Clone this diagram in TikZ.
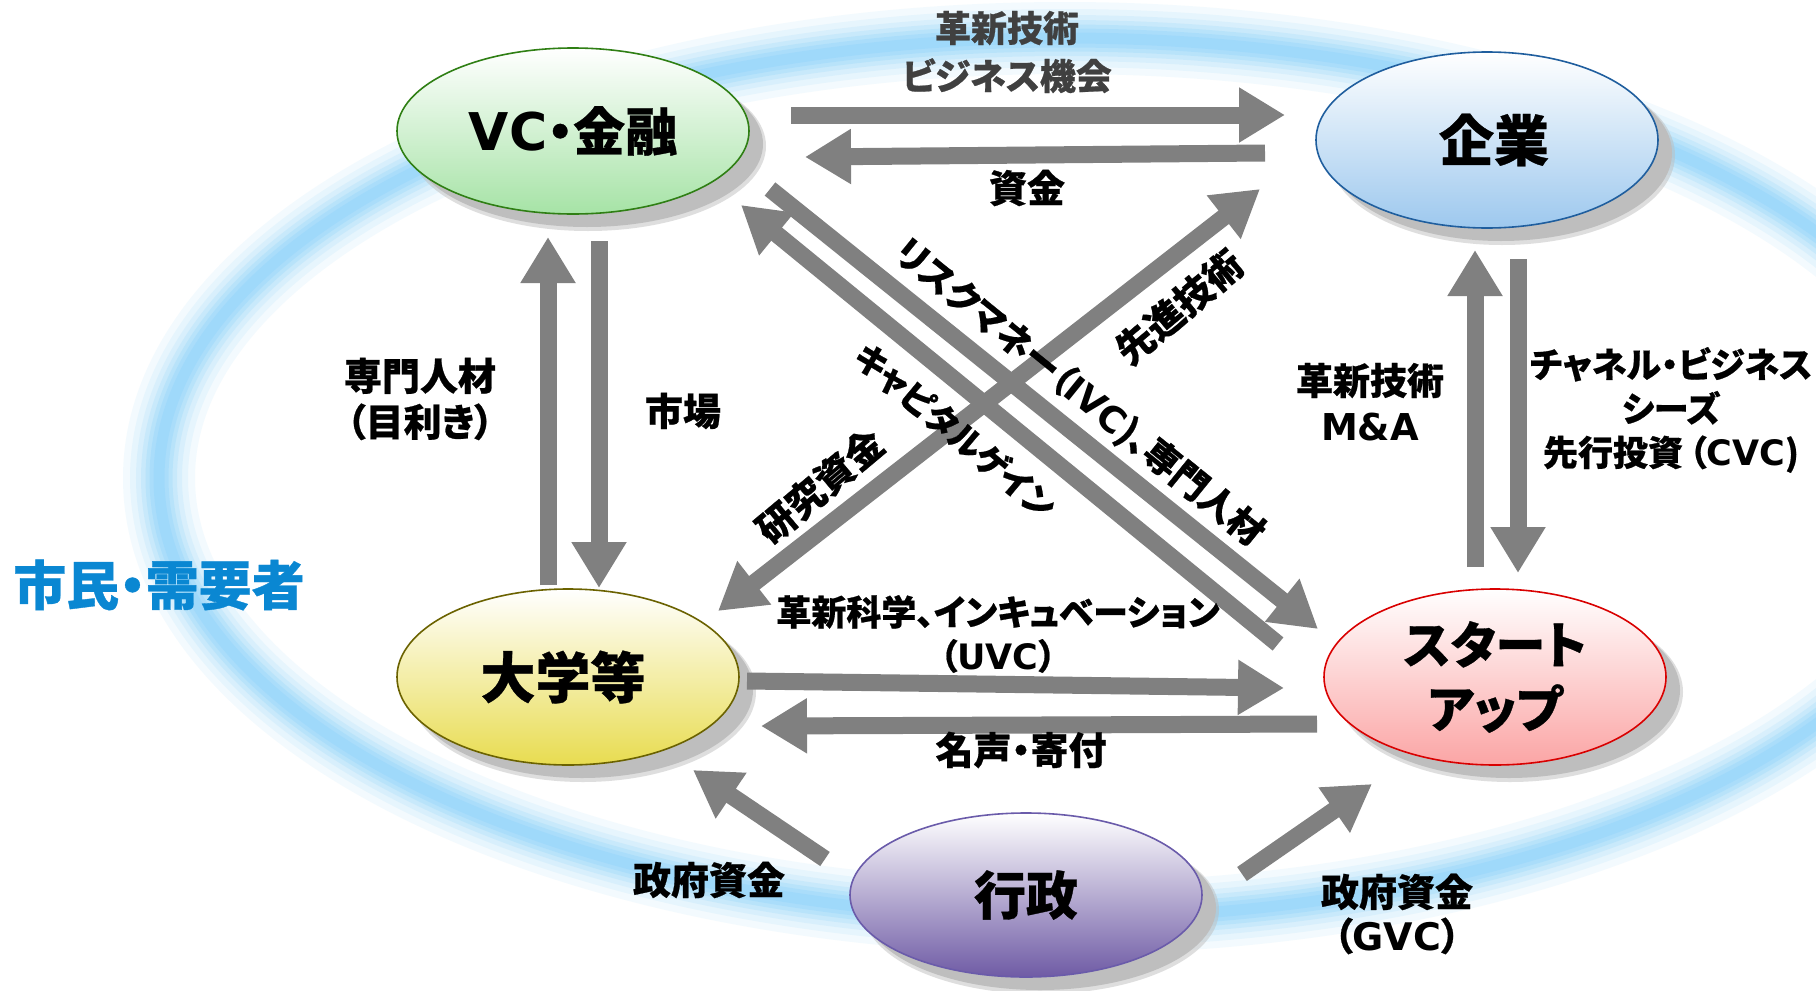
\documentclass[tikz,border=0pt]{standalone}
\usepackage{fontspec}
\setmainfont{Noto Sans CJK JP}[RawFeature=+palt, BoldFeatures={FakeBold=0.6}]
\newfontfamily\latf{DejaVu Sans}
\usetikzlibrary{shapes.geometric,arrows.meta}
\definecolor{agray}{RGB}{128,128,128}
\definecolor{ringc}{RGB}{140,210,250}
\definecolor{shad}{RGB}{190,190,190}
\definecolor{vcB}{RGB}{166,227,166}\definecolor{vcD}{RGB}{47,127,20}
\definecolor{kiB}{RGB}{157,200,238}\definecolor{kiD}{RGB}{31,94,158}
\definecolor{daB}{RGB}{232,220,80}\definecolor{daD}{RGB}{107,98,0}
\definecolor{stB}{RGB}{251,165,165}\definecolor{stD}{RGB}{217,0,0}
\definecolor{gyB}{RGB}{111,91,165}\definecolor{gyD}{RGB}{106,91,170}
\definecolor{citz}{RGB}{10,135,210}
\newcommand\LT[1]{{\latf #1}}
\newcommand\fsl[2]{\fontsize{#1}{#2}\selectfont}
\begin{document}
\begin{tikzpicture}[x=1pt,y=-1pt,
  bub/.style={ellipse, inner sep=0pt, line width=1.6pt, font=\bfseries\fsl{52}{64}, align=center},
  lbl/.style={font=\bfseries\fsl{38}{46}, align=center, inner sep=0pt},
  blk/.style={draw=agray, line width=17pt, -{Triangle[width=52pt,length=46pt]}},
  dblk/.style={draw=agray, line width=17pt, {Triangle[width=52pt,length=46pt]}-{Triangle[width=52pt,length=46pt]}},
]
\useasboundingbox (0,0) rectangle (1816,991);
\clip (0,0) rectangle (1816,991);
\fill[white] (0,0) rectangle (1816,991);
% outer ring (citizens)
\foreach \w/\o in {72/0.10, 58/0.12, 46/0.15, 36/0.2, 27/0.25, 19/0.3, 11/0.35}
  \draw[ringc, line width=\w pt, opacity=\o] (1065,478) ellipse [x radius=906, y radius=440];

% shadows
\foreach \cx/\cy/\rx/\ry in {573/131/176/83, 1487/140/171/88, 568/677/171/88, 1495/677/171/88, 1026/895/176/82}{
  \fill[shad, opacity=0.5] (\cx+15,\cy+15) ellipse [x radius=\rx+2, y radius=\ry+2];
  \fill[shad] (\cx+14,\cy+13) ellipse [x radius=\rx, y radius=\ry];
}
% nodes
\node[bub, minimum width=352, minimum height=166, top color=white, bottom color=vcB, draw=vcD] (vc) at (573,131) {\raisebox{-6pt}{\LT{VC}・金融}};
\node[bub, minimum width=342, minimum height=176, top color=white, bottom color=kiB, draw=kiD, font=\bfseries\fsl{55}{64}] (ki) at (1487,140) {\hspace*{14pt}企業};
\node[bub, minimum width=342, minimum height=176, top color=white, bottom color=daB, draw=daD, font=\bfseries\fsl{55}{64}] (dai) at (568,677) {\hspace*{-10pt}大学等};
\node[bub, minimum width=342, minimum height=176, top color=white, bottom color=stB, draw=stD, font=\bfseries\fsl{50}{64}] (st) at (1495,677) {スタート\\アップ};
\node[bub, minimum width=352, minimum height=164, top color=white, bottom color=gyB, draw=gyD] (gy) at (1026,895) {行政};

% arrow end coordinates
\coordinate (a1s) at (791,115);  \coordinate (a1e) at (1285,115);
\coordinate (a2s) at (1265,153); \coordinate (a2e) at (805,157);
\coordinate (a3s) at (599,241);  \coordinate (a3e) at (599,588);
\coordinate (a4s) at (548,585);  \coordinate (a4e) at (548,237);
\coordinate (a5s) at (1475,567); \coordinate (a5e) at (1475,250);
\coordinate (a6s) at (1518,259); \coordinate (a6e) at (1518,573);
\coordinate (a7s) at (747,681);  \coordinate (a7e) at (1284,688);
\coordinate (a8s) at (1317,724); \coordinate (a8e) at (761,726);
\coordinate (d1a) at (718,611);  \coordinate (d1b) at (1260,189);
\coordinate (d2s) at (770,189);  \coordinate (d2e) at (1318,629);
\coordinate (d3s) at (1278,644); \coordinate (d3e) at (741,205);
\coordinate (g1s) at (825,859);  \coordinate (g1e) at (693,770);
\coordinate (g2s) at (1242,874); \coordinate (g2e) at (1372,784);

\draw[blk] (a1s) -- (a1e);
\draw[blk] (a2s) -- (a2e);
\draw[blk] (a3s) -- (a3e);
\draw[blk] (a4s) -- (a4e);
\draw[blk] (a5s) -- (a5e);
\draw[blk] (a6s) -- (a6e);
\draw[blk] (a7s) -- (a7e);
\draw[blk] (a8s) -- (a8e);
\draw[dblk] (d1a) -- (d1b);
\draw[blk] (d2s) -- (d2e);
\draw[blk] (d3s) -- (d3e);
\draw[blk] (g1s) -- (g1e);
\draw[blk] (g2s) -- (g2e);

% labels
\node[lbl, text=black!75, font=\bfseries\fsl{36}{48}] (l1) at (1007,52) {革新技術\\ビジネス機会};
\node[lbl] (l2) at (1027,188) {資金};
\node[lbl] (l3) at (420,399) {専門人材\\（目利き）};
\node[lbl] (l4) at (683,411) {市場};
\node[lbl, font=\bfseries\fsl{37}{46}] (l5) at (1370,402) {革新技術\\\LT{M\&A}};
\node[lbl, font=\bfseries\fsl{35}{44}] (l6) at (1671,410) {チャネル・ビジネス\\シーズ\\先行投資\hspace{6pt}（\LT{CVC})};
\node[lbl, font=\bfseries\fsl{35}{44}] (l7) at (998,634) {革新科学、インキュベーション\\（\LT{UVC}）};
\node[lbl] (l8) at (1021,750) {名声・寄付};
\node[lbl] (l9) at (709,880) {政府資金};
\node[lbl, font=\bfseries\fsl{38}{44}] (l10) at (1397,914) {政府資金\\（\LT{GVC}）};
\node[lbl, rotate=-39, font=\bfseries\fsl{36}{44}] (l11) at (1079,393) {リスクマネー（\LT{IVC})、専門人材};
\node[lbl, rotate=-40, font=\bfseries\fsl{34}{44}] (l12) at (955,431) {キャピタルゲイン};
\node[lbl, rotate=40] (l13) at (1179,307) {先進技術};
\node[lbl, rotate=40] (l14) at (820,486) {研究資金};
\node[lbl, text=citz, font=\bfseries\fsl{53}{60}] (cit) at (159,585) {市民・需要者};
\end{tikzpicture}
\end{document}
